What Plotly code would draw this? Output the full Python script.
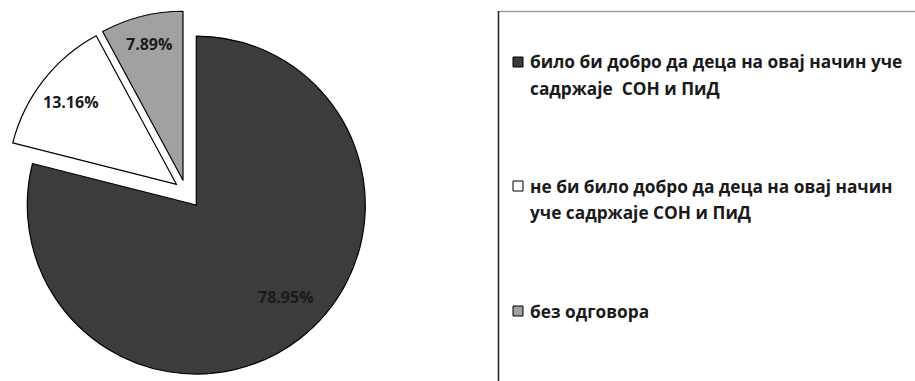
import math
import plotly.graph_objects as go

# ---- data ----
categories = [
    "било би добро да деца на овај начин уче садржаје  СОН и ПиД",
    "не би било добро да деца на овај начин уче садржаје СОН и ПиД",
    "без одговора",
]
legend_lines = [
    ["било би добро да деца на овај начин уче", "садржаје  СОН и ПиД"],
    ["не би било добро да деца на овај начин", "уче садржаје СОН и ПиД"],
    ["без одговора"],
]
values = [78.95, 13.16, 7.89]

# ---- style ----
colors = ["#3b3c3b", "#ffffff", "#a1a1a1"]
pulls = [0.1, 0.07, 0.07]
label_radius = [0.76, 0.79, 0.83]
label_angle_frac = [0.477, 0.5, 0.5]

W, H = 915, 381


def px(x):
    return x / W


def py(y):
    return 1 - y / H


# pie domain in pixels
dom_x = (0, 371.8)
dom_y = (5.8, 377.6)

fig = go.Figure()
fig.add_trace(go.Pie(
    labels=categories,
    values=values,
    sort=False,
    direction="clockwise",
    rotation=0,
    pull=pulls,
    marker=dict(colors=colors, line=dict(color="#000000", width=1.2)),
    textinfo="none",
    showlegend=False,
    hoverinfo="label+percent",
    domain=dict(x=[px(dom_x[0]), px(dom_x[1])], y=[py(dom_y[1]), py(dom_y[0])]),
))

# percentage labels placed from the values (same geometry plotly uses)
cx = (dom_x[0] + dom_x[1]) / 2
cy = (dom_y[0] + dom_y[1]) / 2
r_tot = min(dom_x[1] - dom_x[0], dom_y[1] - dom_y[0]) / 2
r = r_tot / (1 + max(pulls))
total = sum(values)
annotations = []
start = 0.0
for i, v in enumerate(values):
    span = 360.0 * v / total
    mid = math.radians(start + span / 2)
    ang = math.radians(start + span * label_angle_frac[i])
    ox = cx + pulls[i] * r * math.sin(mid)
    oy = cy - pulls[i] * r * math.cos(mid)
    lx = ox + label_radius[i] * r * math.sin(ang)
    ly = oy - label_radius[i] * r * math.cos(ang)
    annotations.append(dict(
        xref="paper", yref="paper", x=px(lx), y=py(ly),
        xanchor="center", yanchor="middle", showarrow=False,
        text=f"{v / total * 100:.2f}%",
        font=dict(family="Open Sans", size=16, color="#1a1a1a", weight="bold"),
    ))
    start += span

shapes = [
    dict(type="line", xref="paper", yref="paper",
         x0=px(498), x1=px(915), y0=py(11.5), y1=py(11.5),
         line=dict(color="#a0a0a0", width=1.5)),
    dict(type="line", xref="paper", yref="paper",
         x0=px(498.5), x1=px(498.5), y0=py(11), y1=py(381),
         line=dict(color="#222222", width=1.5)),
]
item_y = [62, 186, 311]
line_gap = 26
for i, lines in enumerate(legend_lines):
    yc = item_y[i]
    shapes.append(dict(type="rect", xref="paper", yref="paper",
                       x0=px(513), x1=px(523), y0=py(yc - 5), y1=py(yc + 5),
                       line=dict(color="#000000", width=1), fillcolor=colors[i]))
    for j, t in enumerate(lines):
        annotations.append(dict(
            xref="paper", yref="paper", x=px(528), y=py(yc + j * line_gap),
            xanchor="left", yanchor="middle", showarrow=False, text=t,
            font=dict(family="Open Sans", size=17.3, color="#1a1a1a", weight="bold"),
        ))

fig.update_layout(
    width=W, height=H,
    margin=dict(l=0, r=0, t=0, b=0),
    paper_bgcolor="#ffffff",
    plot_bgcolor="#ffffff",
    shapes=shapes,
    annotations=annotations,
)

fig.write_html("out.html", config={"displayModeBar": False},
               post_script="document.body.style.margin='0';")
